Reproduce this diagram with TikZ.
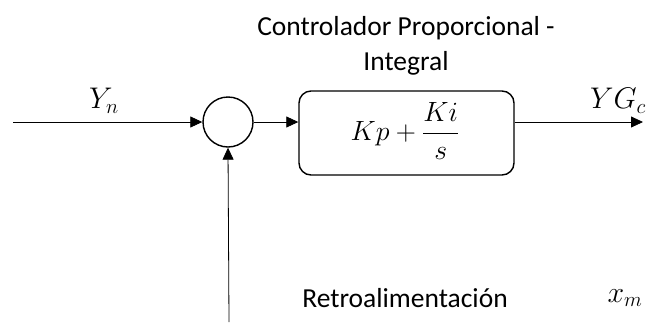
\documentclass[tikz,border=0pt]{standalone}
\usepackage{amsmath}
\usepackage{fontspec}
\setmainfont{Carlito}
\usetikzlibrary{arrows.meta}
\begin{document}
\begin{tikzpicture}[x=1pt,y=-1pt,
  sig/.style={line width=0.8pt,-{Triangle[length=12pt,width=11pt]}},
  sumnode/.style={circle,draw,line width=1.4pt,minimum size=50pt,inner sep=0pt},
  blockbox/.style={draw,line width=1.4pt,rounded corners=12pt,minimum width=215pt,minimum height=84pt},
  lbl/.style={font=\fontsize{27.5}{32}\selectfont},
  mlbl/.style={font=\fontsize{24}{28}\selectfont,scale=1.2}]
\useasboundingbox (0,0) rectangle (647,322);
% summing junction and PI block
\node[sumnode] (sum) at (228,122) {};
\node[blockbox] (pi) at (406.5,133) {};
\node[font=\fontsize{24}{28}\selectfont,scale=1.12] (tf) at (405,131) {$Kp+\dfrac{Ki}{s}$};
% block title
\node[lbl] (t1) at (406,28) {Controlador Proporcional -};
\node[lbl] (t2) at (406,63) {Integral};
% signal endpoints
\coordinate (in) at (13,122);
\coordinate (out) at (643,122);
\coordinate (fb) at (229,322);
% connectors
\draw[sig] (in) -- (sum.west);
\draw[sig] (sum.east) -- (sum.east -| pi.west);
\draw[sig] (sum.east -| pi.east) -- (out);
\draw[sig] (fb) -- (sum.south);
% signal labels
\node[mlbl] (yn) at (104,101) {$Y_n$};
\node[mlbl] (ygc) at (618,101) {$YG_c$};
\node[mlbl] (xm) at (625,298) {$x_m$};
\node[lbl] (retro) at (405,298) {Retroalimentación};
\end{tikzpicture}
\end{document}
